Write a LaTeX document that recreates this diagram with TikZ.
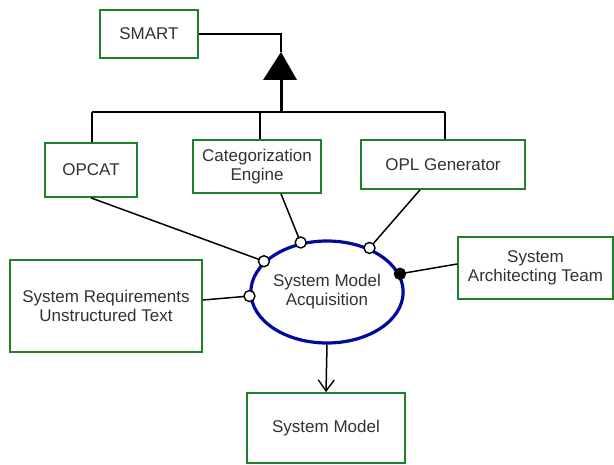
\documentclass[tikz,border=0pt]{standalone}
\usepackage{fontspec}
\setmainfont{Liberation Sans}
\usetikzlibrary{shapes.geometric,arrows.meta}
\definecolor{boxgreen}{RGB}{30,130,40}
\definecolor{ellblue}{RGB}{0,10,160}
\definecolor{txt}{RGB}{50,50,50}
\tikzset{
  objbox/.style={draw=boxgreen,line width=1.8pt,fill=white,rectangle,inner sep=0pt,align=center,text=txt,font=\fontsize{17}{19}\selectfont},
  procell/.style={draw=ellblue,line width=3.2pt,fill=white,ellipse,inner sep=0pt,align=center,text=txt,font=\fontsize{17}{19}\selectfont},
  link/.style={draw=black,line width=1.5pt},
  hier/.style={draw=black,line width=2pt},
  opencirc/.style={circle,draw=black,fill=white,line width=1.4pt,minimum size=11pt,inner sep=0pt},
  fullcirc/.style={circle,draw=black,fill=black,line width=1.4pt,minimum size=11pt,inner sep=0pt},
}
\begin{document}
\begin{tikzpicture}[x=1pt,y=-1pt]
\useasboundingbox (0,0) rectangle (614,465);
% nodes
\node[objbox,minimum width=98pt,minimum height=48pt] (smart) at (149,34) {SMART};
\node[objbox,minimum width=92pt,minimum height=54pt] (opcat) at (91,170) {OPCAT};
\node[objbox,minimum width=128pt,minimum height=53pt] (cat) at (257,166.5) {Categorization\\Engine};
\node[objbox,minimum width=164pt,minimum height=49pt] (opl) at (443,164.5) {OPL Generator};
\node[objbox,minimum width=192pt,minimum height=92pt] (sr) at (106,306) {System Requirements\\Unstructured Text};
\node[objbox,minimum width=155pt,minimum height=62pt] (sa) at (535.5,268) {System\\Architecting Team};
\node[objbox,minimum width=158pt,minimum height=70pt] (sm) at (326,428) {System Model};
\node[procell,minimum width=150pt,minimum height=102pt] (ell) at (327,292) {System Model\\Acquisition};
% generalization structure
\coordinate (corner) at (281,34);
\coordinate (apex) at (281,52);
\coordinate (bl) at (263,80);
\coordinate (br) at (297,80);
\coordinate (base) at (281,80);
\coordinate (join) at (281,112);
\coordinate (hl) at (92,112);
\coordinate (hm) at (260,112);
\coordinate (hr) at (445,112);
\draw[link] (smart.east) -- (corner) -- (apex);
\fill[black] (apex) -- (br) -- (bl) -- cycle;
\draw[draw=black,line width=3pt] (base) -- (join);
\draw[hier] (hl) -- (hr);
\draw[hier] (hl) -- (hl |- opcat.north);
\draw[hier] (hm) -- (hm |- cat.north);
\draw[hier] (hr) -- (hr |- opl.north);
% links to process
\draw[link] (opcat.south) -- (ell.154);
\draw[link] ([xshift=24pt]cat.south) -- (ell.118);
\draw[link] ([xshift=-23pt]opl.south) -- (ell.46);
\draw[link] ([yshift=6pt]sr.east) -- (ell.183);
\draw[link] ([yshift=4pt]sa.west) -- (ell.14);
\node[opencirc] (c1) at (ell.154) {};
\node[opencirc] (c2) at (ell.118) {};
\node[opencirc] (c3) at (ell.46) {};
\node[opencirc] (c4) at (ell.183) {};
\node[fullcirc] (c5) at (ell.14) {};
\draw[link,-{Straight Barb[length=11pt,width=16pt,line width=1.4pt]}] (ell.south) -- (sm.north);
\end{tikzpicture}
\end{document}
